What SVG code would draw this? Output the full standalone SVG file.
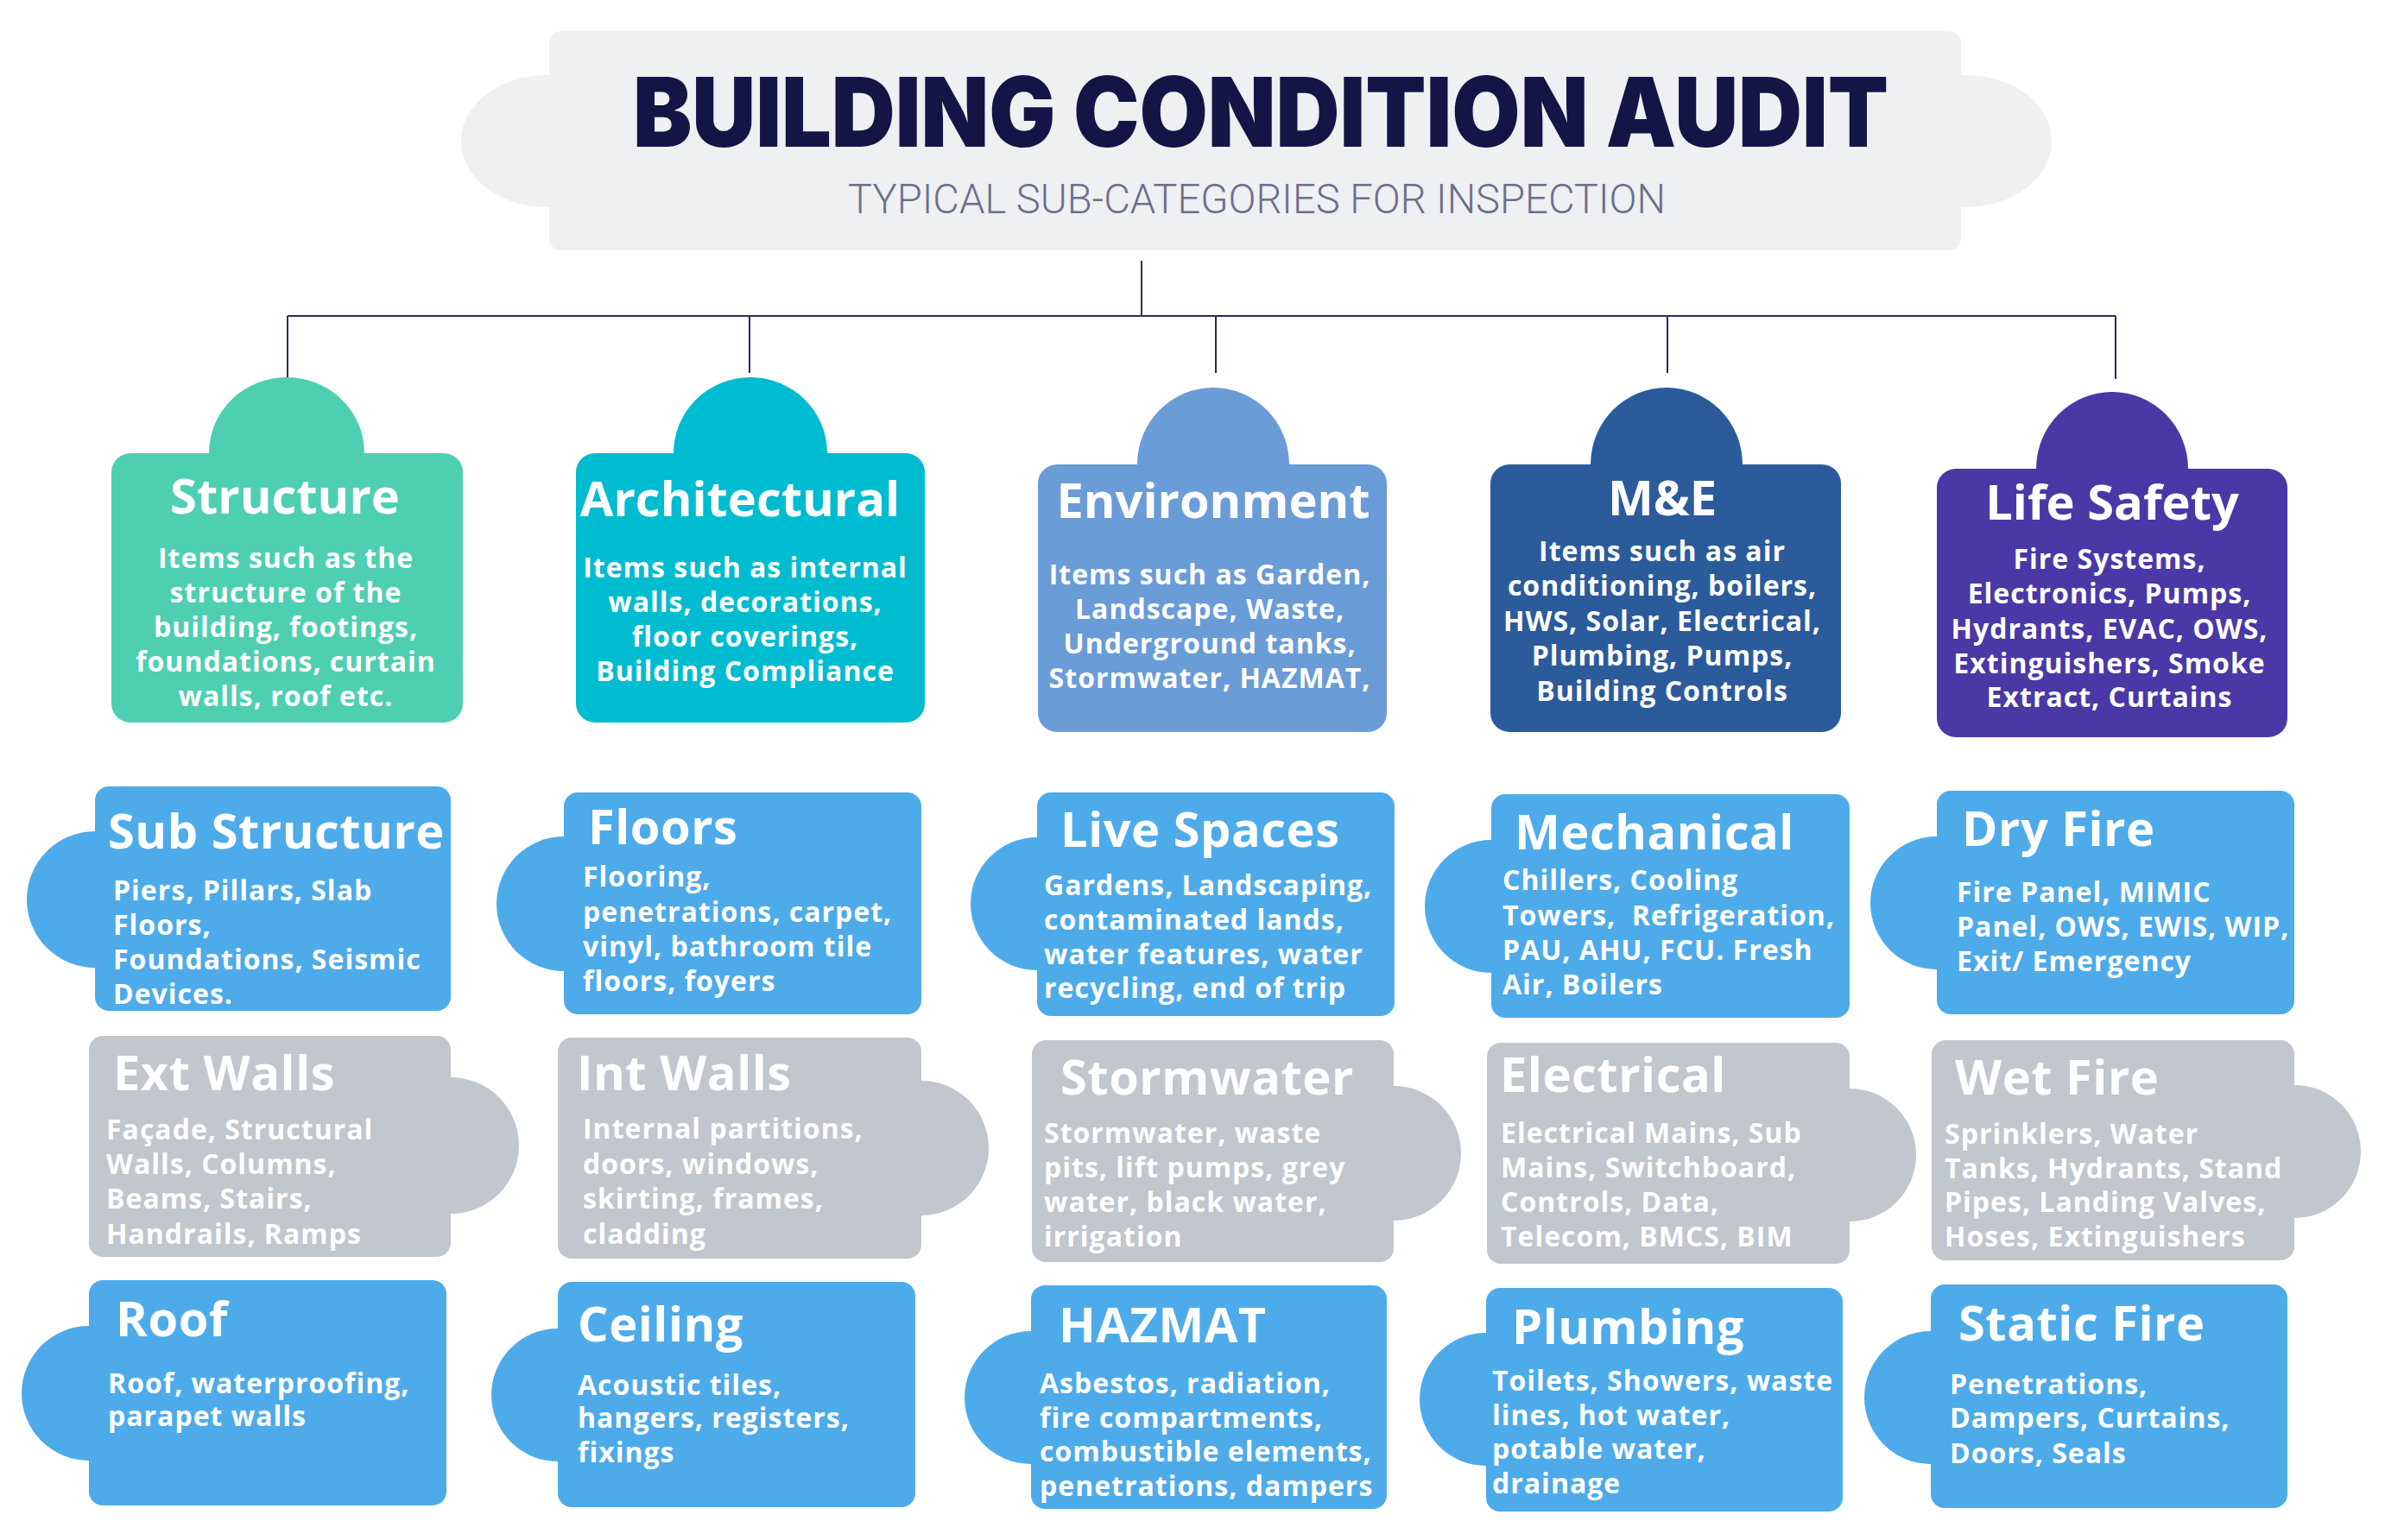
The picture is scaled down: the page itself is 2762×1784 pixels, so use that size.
<svg xmlns="http://www.w3.org/2000/svg" width="2762" height="1784" viewBox="0 0 2762 1784">
<style>
.ct{font-family:"Open Sans","Noto Sans",sans-serif;font-weight:700;font-size:56px;fill:#fff;text-anchor:middle}
.cd{font-family:"Open Sans","Noto Sans",sans-serif;font-weight:700;font-size:32px;fill:#fff;text-anchor:middle;letter-spacing:1px}
.st{font-family:"Open Sans","Noto Sans",sans-serif;font-weight:700;font-size:56px;fill:#fff;letter-spacing:0.5px}
.sd{font-family:"Open Sans","Noto Sans",sans-serif;font-weight:700;font-size:32px;fill:#fff;letter-spacing:1px}
.blue{fill:#4eabe9}
.gray{fill:#c2c6cd}
.conn{stroke:#2b2b5c;stroke-width:2;fill:none}
</style>
<rect width="2762" height="1784" fill="#fff"/>
<g id="title">
<rect x="534" y="87" width="1842" height="153" rx="100" ry="76" fill="#eef0f2"/>
<rect x="636" y="36" width="1635" height="254" rx="14" fill="#eef0f2"/>
<text x="733" y="170" textLength="1454" lengthAdjust="spacingAndGlyphs" style="font-family:Inter,'Open Sans',sans-serif;font-weight:900;font-size:112px;fill:#141446">BUILDING CONDITION AUDIT</text>
<text x="982" y="247" textLength="947" lengthAdjust="spacingAndGlyphs" style="font-family:Roboto,'Open Sans',sans-serif;font-weight:300;font-size:48px;fill:#6e6e8c">TYPICAL SUB-CATEGORIES FOR INSPECTION</text>
</g>
<g id="connectors">
<path class="conn" d="M1322 302V366M333 366H2450M333 366V437M868 366V432M1408 366V432M1931 366V432M2450 366V439"/>
</g>
<g id="structure">
<ellipse cx="332" cy="525" rx="90" ry="88" fill="#4ecfb1"/>
<rect x="129" y="525" width="407" height="312" rx="22" fill="#4ecfb1"/>
<text class="ct" x="330" y="595">Structure</text>
<text class="cd" x="331" y="658">Items such as the</text>
<text class="cd" x="331" y="698">structure of the</text>
<text class="cd" x="331" y="738">building, footings,</text>
<text class="cd" x="331" y="778">foundations, curtain</text>
<text class="cd" x="331" y="818">walls, roof etc.</text>
</g>
<g id="architectural">
<ellipse cx="869" cy="525" rx="89" ry="88" fill="#00bcd0"/>
<rect x="667" y="525" width="404" height="312" rx="22" fill="#00bcd0"/>
<text class="ct" x="857" y="598">Architectural</text>
<text class="cd" x="863" y="669">Items such as internal</text>
<text class="cd" x="863" y="709">walls, decorations,</text>
<text class="cd" x="863" y="749">floor coverings,</text>
<text class="cd" x="863" y="789">Building Compliance</text>
</g>
<g id="environment">
<ellipse cx="1405" cy="538" rx="88" ry="89" fill="#6a9cd8"/>
<rect x="1202" y="538" width="404" height="310" rx="22" fill="#6a9cd8"/>
<text class="ct" x="1405" y="600">Environment</text>
<text class="cd" x="1401" y="677">Items such as Garden,</text>
<text class="cd" x="1401" y="717">Landscape, Waste,</text>
<text class="cd" x="1401" y="757">Underground tanks,</text>
<text class="cd" x="1401" y="797">Stormwater, HAZMAT,</text>
</g>
<g id="me">
<ellipse cx="1930" cy="538" rx="88" ry="89" fill="#2c5b9c"/>
<rect x="1726" y="538" width="406" height="310" rx="22" fill="#2c5b9c"/>
<text class="ct" x="1925" y="597">M&amp;E</text>
<text class="cd" x="1925" y="650">Items such as air</text>
<text class="cd" x="1925" y="690">conditioning, boilers,</text>
<text class="cd" x="1925" y="731">HWS, Solar, Electrical,</text>
<text class="cd" x="1925" y="771">Plumbing, Pumps,</text>
<text class="cd" x="1925" y="812">Building Controls</text>
</g>
<g id="life-safety">
<ellipse cx="2446" cy="543" rx="88" ry="89" fill="#4a38a6"/>
<rect x="2243" y="543" width="406" height="311" rx="22" fill="#4a38a6"/>
<text class="ct" x="2446" y="602">Life Safety</text>
<text class="cd" x="2443" y="659">Fire Systems,</text>
<text class="cd" x="2443" y="699">Electronics, Pumps,</text>
<text class="cd" x="2443" y="740">Hydrants, EVAC, OWS,</text>
<text class="cd" x="2443" y="780">Extinguishers, Smoke</text>
<text class="cd" x="2443" y="819">Extract, Curtains</text>
</g>
<g id="sub-structure">
<circle class="blue" cx="110" cy="1042" r="79"/>
<rect class="blue" x="110" y="911" width="412" height="260" rx="16"/>
<text class="st" x="125" y="983">Sub Structure</text>
<text class="sd" x="131" y="1043">Piers, Pillars, Slab</text>
<text class="sd" x="131" y="1083">Floors,</text>
<text class="sd" x="131" y="1123">Foundations, Seismic</text>
<text class="sd" x="131" y="1163">Devices.</text>
</g>
<g id="floors">
<circle class="blue" cx="653" cy="1047" r="78"/>
<rect class="blue" x="653" y="918" width="414" height="257" rx="16"/>
<text class="st" x="681" y="978">Floors</text>
<text class="sd" x="675" y="1027">Flooring,</text>
<text class="sd" x="675" y="1068">penetrations, carpet,</text>
<text class="sd" x="675" y="1108">vinyl, bathroom tile</text>
<text class="sd" x="675" y="1148">floors, foyers</text>
</g>
<g id="live-spaces">
<circle class="blue" cx="1201" cy="1047" r="77"/>
<rect class="blue" x="1201" y="918" width="414" height="259" rx="16"/>
<text class="st" x="1228" y="981">Live Spaces</text>
<text class="sd" x="1209" y="1037">Gardens, Landscaping,</text>
<text class="sd" x="1209" y="1077">contaminated lands,</text>
<text class="sd" x="1209" y="1117">water features, water</text>
<text class="sd" x="1209" y="1156">recycling, end of trip</text>
</g>
<g id="mechanical">
<circle class="blue" cx="1727" cy="1050" r="77"/>
<rect class="blue" x="1727" y="920" width="415" height="259" rx="16"/>
<text class="st" x="1754" y="984">Mechanical</text>
<text class="sd" x="1740" y="1031">Chillers, Cooling</text>
<text class="sd" x="1740" y="1072" xml:space="preserve">Towers,  Refrigeration,</text>
<text class="sd" x="1740" y="1112">PAU, AHU, FCU. Fresh</text>
<text class="sd" x="1740" y="1152">Air, Boilers</text>
</g>
<g id="dry-fire">
<circle class="blue" cx="2243" cy="1046" r="77"/>
<rect class="blue" x="2243" y="916" width="414" height="259" rx="16"/>
<text class="st" x="2272" y="980">Dry Fire</text>
<text class="sd" x="2266" y="1045">Fire Panel, MIMIC</text>
<text class="sd" x="2266" y="1085">Panel, OWS, EWIS, WIP,</text>
<text class="sd" x="2266" y="1125">Exit/ Emergency</text>
</g>
<g id="ext-walls">
<circle class="gray" cx="522" cy="1327" r="79"/>
<rect class="gray" x="103" y="1200" width="419" height="256" rx="16"/>
<text class="st" x="131" y="1263">Ext Walls</text>
<text class="sd" x="123" y="1320">Façade, Structural</text>
<text class="sd" x="123" y="1360">Walls, Columns,</text>
<text class="sd" x="123" y="1400">Beams, Stairs,</text>
<text class="sd" x="123" y="1441">Handrails, Ramps</text>
</g>
<g id="int-walls">
<circle class="gray" cx="1067" cy="1330" r="78"/>
<rect class="gray" x="646" y="1202" width="421" height="256" rx="16"/>
<text class="st" x="668" y="1263">Int Walls</text>
<text class="sd" x="675" y="1319">Internal partitions,</text>
<text class="sd" x="675" y="1360">doors, windows,</text>
<text class="sd" x="675" y="1400">skirting, frames,</text>
<text class="sd" x="675" y="1441">cladding</text>
</g>
<g id="stormwater">
<circle class="gray" cx="1614" cy="1336" r="78"/>
<rect class="gray" x="1195" y="1205" width="419" height="257" rx="16"/>
<text class="st" x="1228" y="1268">Stormwater</text>
<text class="sd" x="1209" y="1324">Stormwater, waste</text>
<text class="sd" x="1209" y="1364">pits, lift pumps, grey</text>
<text class="sd" x="1209" y="1404">water, black water,</text>
<text class="sd" x="1209" y="1444">irrigation</text>
</g>
<g id="electrical">
<circle class="gray" cx="2142" cy="1338" r="77"/>
<rect class="gray" x="1722" y="1208" width="420" height="256" rx="16"/>
<text class="st" x="1737" y="1265">Electrical</text>
<text class="sd" x="1738" y="1324">Electrical Mains, Sub</text>
<text class="sd" x="1738" y="1364">Mains, Switchboard,</text>
<text class="sd" x="1738" y="1404">Controls, Data,</text>
<text class="sd" x="1738" y="1444">Telecom, BMCS, BIM</text>
</g>
<g id="wet-fire">
<circle class="gray" cx="2657" cy="1334" r="77"/>
<rect class="gray" x="2237" y="1205" width="420" height="255" rx="16"/>
<text class="st" x="2264" y="1268">Wet Fire</text>
<text class="sd" x="2252" y="1325">Sprinklers, Water</text>
<text class="sd" x="2252" y="1365">Tanks, Hydrants, Stand</text>
<text class="sd" x="2252" y="1404">Pipes, Landing Valves,</text>
<text class="sd" x="2252" y="1444">Hoses, Extinguishers</text>
</g>
<g id="roof">
<circle class="blue" cx="103" cy="1614" r="78"/>
<rect class="blue" x="103" y="1483" width="414" height="261" rx="16"/>
<text class="st" x="134" y="1548">Roof</text>
<text class="sd" x="125" y="1614">Roof, waterproofing,</text>
<text class="sd" x="125" y="1652">parapet walls</text>
</g>
<g id="ceiling">
<circle class="blue" cx="646" cy="1616" r="77"/>
<rect class="blue" x="646" y="1485" width="414" height="261" rx="16"/>
<text class="st" x="669" y="1554">Ceiling</text>
<text class="sd" x="669" y="1616">Acoustic tiles,</text>
<text class="sd" x="669" y="1654">hangers, registers,</text>
<text class="sd" x="669" y="1694">fixings</text>
</g>
<g id="hazmat">
<circle class="blue" cx="1194" cy="1619" r="77"/>
<rect class="blue" x="1194" y="1489" width="412" height="259" rx="16"/>
<text class="st" x="1226" y="1555">HAZMAT</text>
<text class="sd" x="1204" y="1614">Asbestos, radiation,</text>
<text class="sd" x="1204" y="1654">fire compartments,</text>
<text class="sd" x="1204" y="1693">combustible elements,</text>
<text class="sd" x="1204" y="1733">penetrations, dampers</text>
</g>
<g id="plumbing">
<circle class="blue" cx="1721" cy="1621" r="77"/>
<rect class="blue" x="1721" y="1492" width="413" height="259" rx="16"/>
<text class="st" x="1751" y="1557">Plumbing</text>
<text class="sd" x="1728" y="1611">Toilets, Showers, waste</text>
<text class="sd" x="1728" y="1651">lines, hot water,</text>
<text class="sd" x="1728" y="1690">potable water,</text>
<text class="sd" x="1728" y="1730">drainage</text>
</g>
<g id="static-fire">
<circle class="blue" cx="2236" cy="1619" r="77"/>
<rect class="blue" x="2236" y="1488" width="413" height="259" rx="16"/>
<text class="st" x="2268" y="1553">Static Fire</text>
<text class="sd" x="2258" y="1615">Penetrations,</text>
<text class="sd" x="2258" y="1654">Dampers, Curtains,</text>
<text class="sd" x="2258" y="1695">Doors, Seals</text>
</g>
</svg>
